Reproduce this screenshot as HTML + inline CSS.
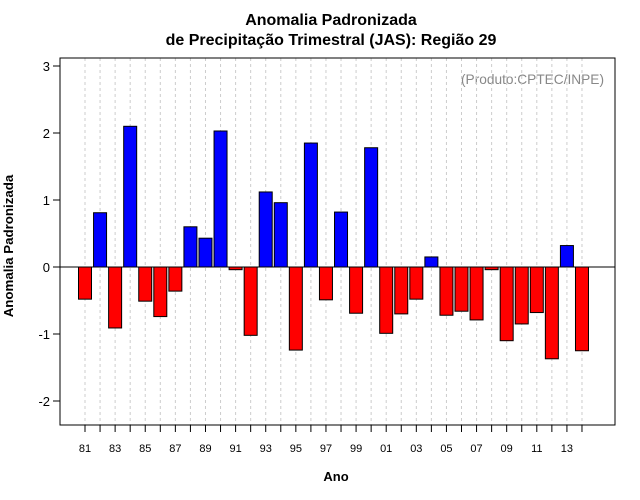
<!DOCTYPE html>
<html><head><meta charset="utf-8"><style>body{margin:0;background:#fff}svg{display:block;font-family:"Liberation Sans",sans-serif}</style></head>
<body>
<svg id="c" width="640" height="500">
<text x="331" y="25" text-anchor="middle" font-size="16" font-weight="bold">Anomalia Padronizada</text>
<text x="331" y="45" text-anchor="middle" font-size="16" font-weight="bold">de Precipitação Trimestral (JAS): Região 29</text>
<text x="604" y="84" text-anchor="end" font-size="13.7" fill="#888">(Produto:CPTEC/INPE)</text>
<text x="336" y="481" text-anchor="middle" font-size="13" font-weight="bold">Ano</text>
<text transform="translate(13,246) rotate(-90)" text-anchor="middle" font-size="13.3" font-weight="bold">Anomalia Padronizada</text>
<g id="g"></g>
</svg>
<script>
const years=[1981,1982,1983,1984,1985,1986,1987,1988,1989,1990,1991,1992,1993,1994,1995,1996,1997,1998,1999,2000,2001,2002,2003,2004,2005,2006,2007,2008,2009,2010,2011,2012,2013,2014];
const values=[-0.48,0.81,-0.91,2.1,-0.51,-0.74,-0.36,0.6,0.43,2.03,-0.04,-1.02,1.12,0.96,-1.24,1.85,-0.49,0.82,-0.69,1.78,-0.99,-0.7,-0.48,0.15,-0.72,-0.66,-0.79,-0.04,-1.1,-0.85,-0.68,-1.37,0.32,-1.25];
const yTicks=[-2,-1,0,1,2,3];
const NS="http://www.w3.org/2000/svg",g=document.getElementById('g');
const L=60,R=615,T=58,B=425;
const x=yr=>85+(yr-1981)*15.06;
const y=v=>267-v*67;
function mk(t,a){const e=document.createElementNS(NS,t);for(const k in a)e.setAttribute(k,a[k]);g.appendChild(e);return e;}
years.forEach(yr=>{const e=mk('line',{x1:x(yr),x2:x(yr),y1:T,y2:B,stroke:'#ccc','stroke-dasharray':'3,3'});

});
years.forEach((yr,i)=>{const v=values[i];const y0=Math.min(y(0),y(v)),h=Math.abs(y(v)-y(0));
const b=mk('rect',{x:x(yr)-6.5,y:y0,width:13,height:Math.max(h,0.5),fill:v>=0?'#0000ff':'#ff0000',stroke:'#000','stroke-width':1});

});
const z=mk('line',{x1:L,x2:R,y1:y(0),y2:y(0),stroke:'#000'});


const f=mk('rect',{x:L,y:T,width:R-L,height:B-T,fill:'none',stroke:'#000'});


yTicks.forEach(v=>{mk('line',{x1:L-7,x2:L,y1:y(v),y2:y(v),stroke:'#000'});
const t=mk('text',{x:L-10,y:y(v)+5,'text-anchor':'end','font-size':13});t.textContent=v;

});
years.forEach(yr=>{mk('line',{x1:x(yr),x2:x(yr),y1:B,y2:B+7,stroke:'#000'});
if(yr%2===1){const t=mk('text',{x:x(yr),y:452,'text-anchor':'middle','font-size':11});t.textContent=String(yr).slice(2);

}});
</script>
</body></html>
